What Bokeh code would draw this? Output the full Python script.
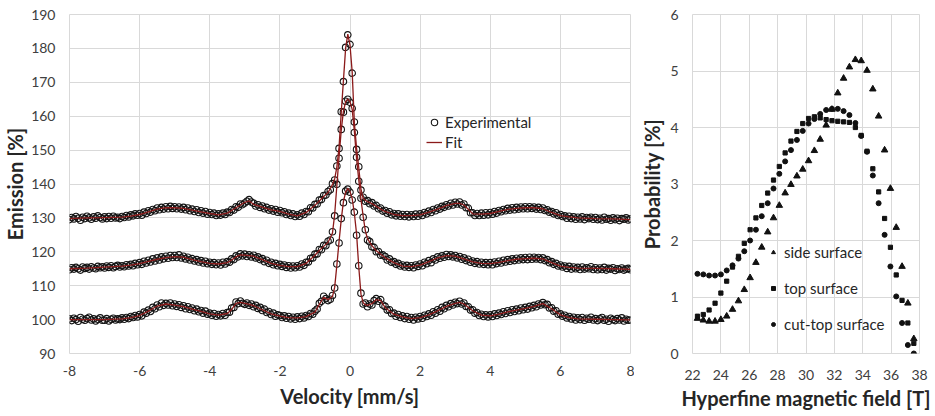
import numpy as np
from bokeh.plotting import figure
from bokeh.models import Range1d, FixedTicker, Legend, LegendItem
from bokeh.layouts import row
from bokeh.embed import file_html
from bokeh.resources import INLINE

# ---------------- left panel: emission spectra ----------------
VEL = np.arange(257) * 0.0625 - 8.0   # channel velocities [mm/s]

BOTTOM_EXP = [
    100.2, 99.7, 100.4, 100.0, 99.5, 100.6, 100.1, 99.8, 100.3, 100.7, 99.9, 100.2, 99.6, 100.1, 100.5, 99.8,
    99.8, 100.3, 99.6, 100.1, 100.4, 99.9, 100.2, 100.0, 100.5, 100.1, 100.6, 100.3, 100.9, 100.6, 101.2, 100.8,
    101.5, 101.1, 102.2, 101.9, 102.8, 102.4, 103.6, 103.2, 104.3, 103.8, 104.9, 104.2, 104.8, 104.3, 104.9, 104.1,
    104.6, 103.9, 104.4, 103.6, 104.1, 103.2, 103.8, 103.0, 103.4, 102.6, 103.1, 102.3, 102.7, 101.9, 102.5, 101.6,
    101.9, 101.3, 101.8, 101.0, 101.5, 101.1, 101.8, 101.3, 102.1, 102.2, 103.4, 103.6, 105.2, 104.7, 105.5, 104.8,
    104.5, 104.9, 104.2, 104.6, 103.8, 104.2, 103.3, 103.6, 102.7, 103.1, 102.1, 102.4, 101.5, 101.9, 101.0, 101.4,
    101.2, 100.6, 101.1, 100.4, 100.9, 100.2, 100.7, 100.1, 100.8, 100.3, 101.0, 100.5, 101.2, 100.9, 101.8, 101.6,
    102.5, 103.1, 104.8, 105.4, 106.9, 106.2, 105.6, 106.0, 107.1, 109.3, 116.4, 122.6, 129.8, 134.5, 137.9, 138.5,
    137.6, 135.3, 131.7, 124.9, 115.9, 107.8, 104.6, 104.9, 103.8, 104.6, 104.3, 105.6, 106.2, 105.4, 105.9, 104.3,
    103.9, 102.8, 102.9, 101.8, 101.9, 101.0, 101.5, 100.6, 101.1, 100.3, 100.9, 100.1, 100.6, 99.9, 100.7, 100.2,
    100.9, 100.4, 101.3, 100.9, 101.7, 101.3, 102.3, 101.9, 102.9, 102.5, 103.6, 103.2, 104.2, 103.8, 104.7, 104.3,
    105.1, 104.7, 105.4, 104.6, 104.9, 103.9, 103.8, 102.8, 102.9, 101.9, 102.1, 101.2, 101.6, 100.9, 101.4, 100.8,
    101.4, 100.9, 101.7, 101.2, 101.9, 101.5, 102.3, 101.8, 102.6, 102.1, 102.9, 102.4, 103.1, 102.6, 103.4, 102.9,
    103.6, 103.1, 103.9, 103.5, 104.2, 103.8, 104.6, 104.3, 105.0, 104.4, 104.5, 103.4, 103.5, 102.5, 102.6, 101.6,
    101.7, 101.0, 101.3, 100.5, 100.9, 100.2, 100.7, 99.9, 100.5, 100.0, 100.6, 99.8, 100.4, 100.1, 100.7, 99.9,
    100.3, 99.7, 100.2, 100.6, 99.8, 100.1, 99.5, 100.4, 100.0, 99.7, 100.3, 99.9, 100.5, 99.6, 100.1, 99.8,
    99.9,
]

MIDDLE_EXP = [
    114.7, 115.3, 114.9, 115.4, 115.0, 114.6, 115.5, 115.1, 115.4, 114.9, 115.6, 115.2, 115.0, 115.7, 115.3, 115.6,
    115.2, 115.8, 115.4, 115.9, 115.3, 115.7, 116.0, 115.5, 115.9, 115.6, 116.2, 115.8, 116.3, 115.9, 116.6, 116.2,
    116.8, 116.3, 117.2, 116.7, 117.5, 117.0, 117.9, 117.3, 118.2, 117.6, 118.5, 117.9, 118.7, 118.1, 118.9, 118.3,
    118.9, 118.3, 119.1, 118.2, 118.7, 117.9, 118.4, 117.6, 118.0, 117.3, 117.7, 117.0, 117.4, 116.7, 117.2, 116.5,
    116.9, 116.3, 116.8, 116.2, 116.7, 116.1, 116.9, 116.4, 117.1, 116.9, 117.9, 117.7, 118.8, 118.5, 119.4, 118.8,
    119.3, 118.6, 119.1, 118.5, 119.0, 118.2, 118.5, 117.7, 118.0, 117.1, 117.5, 116.6, 116.9, 116.2, 116.6, 115.9,
    116.3, 115.7, 116.1, 115.4, 115.9, 115.2, 115.8, 115.3, 115.9, 115.5, 116.4, 116.0, 116.9, 117.0, 118.1, 118.2,
    119.3, 119.4, 120.7, 120.6, 121.9, 121.8, 123.1, 123.5, 125.9, 130.6, 139.9, 147.6, 156.1, 161.2, 164.4, 165.0,
    164.1, 162.3, 155.2, 147.9, 140.8, 135.8, 130.2, 126.5, 123.5, 123.0, 121.5, 121.3, 120.0, 120.1, 119.0, 119.1,
    118.6, 117.6, 117.9, 116.9, 117.1, 116.3, 116.6, 115.8, 116.1, 115.5, 116.0, 115.4, 115.9, 115.3, 116.1, 115.7,
    116.4, 115.9, 116.9, 116.5, 117.4, 116.8, 117.9, 117.6, 118.5, 118.1, 118.8, 118.4, 119.2, 118.6, 119.1, 118.5,
    118.9, 118.2, 118.6, 117.8, 118.2, 117.4, 117.8, 116.9, 117.3, 116.6, 117.1, 116.4, 116.9, 116.3, 116.8, 116.2,
    116.8, 116.2, 117.0, 116.5, 117.2, 116.7, 117.5, 117.0, 117.7, 117.2, 117.9, 117.4, 118.1, 117.6, 118.2, 117.7,
    118.3, 117.7, 118.4, 117.8, 118.4, 117.9, 118.3, 117.7, 118.2, 117.4, 117.7, 116.8, 117.1, 116.3, 116.6, 115.8,
    116.1, 115.5, 115.8, 115.1, 115.7, 114.9, 115.5, 115.0, 115.4, 114.8, 115.5, 114.9, 115.3, 115.0, 115.6, 114.8,
    115.3, 114.7, 115.2, 114.8, 115.4, 114.6, 115.1, 114.9, 115.3, 114.5, 115.0, 114.8, 115.2, 114.6, 114.9, 115.1,
    114.7,
]

TOP_EXP = [
    129.5, 130.1, 129.7, 130.4, 129.9, 129.3, 130.2, 129.8, 130.5, 130.0, 129.6, 130.3, 129.9, 130.6, 130.1, 129.7,
    130.3, 129.8, 130.4, 129.9, 130.5, 130.0, 130.2, 129.8, 130.4, 130.1, 130.7, 130.3, 130.9, 130.6, 131.2, 130.8,
    131.3, 130.8, 131.7, 131.3, 132.1, 131.7, 132.5, 132.1, 132.9, 132.4, 133.1, 132.6, 133.3, 132.7, 133.4, 132.8,
    133.3, 132.7, 133.2, 132.6, 133.1, 132.4, 132.9, 132.1, 132.6, 131.9, 132.4, 131.6, 132.1, 131.4, 131.9, 131.1,
    131.6, 131.0, 131.4, 130.7, 131.2, 130.8, 131.4, 131.0, 131.7, 131.6, 132.5, 132.3, 133.3, 133.1, 134.1, 133.9,
    134.4, 134.9, 135.4, 134.7, 134.3, 133.5, 133.9, 133.1, 133.5, 132.7, 133.1, 132.3, 132.7, 132.0, 132.5, 131.7,
    132.2, 131.5, 131.8, 131.0, 131.4, 130.7, 131.2, 130.4, 130.9, 130.5, 131.4, 131.0, 131.9, 131.8, 133.0, 132.9,
    134.0, 134.1, 135.3, 135.4, 136.6, 136.7, 137.8, 138.3, 140.1, 141.2, 145.3, 150.5, 161.3, 170.2, 180.3, 184.0,
    181.2, 172.7, 158.3, 150.2, 145.1, 138.2, 136.1, 134.9, 135.1, 134.2, 134.5, 133.5, 133.7, 132.7, 132.9, 132.0,
    132.2, 131.4, 131.8, 130.9, 131.3, 130.6, 131.2, 130.5, 131.0, 130.4, 131.0, 130.3, 130.9, 130.4, 131.1, 130.5,
    131.2, 130.7, 131.6, 131.2, 132.0, 131.6, 132.5, 132.1, 132.9, 132.6, 133.4, 133.1, 133.9, 133.5, 134.3, 133.8,
    134.6, 134.1, 134.7, 133.8, 134.1, 133.0, 132.9, 131.5, 131.5, 130.7, 131.3, 130.7, 131.4, 130.8, 131.5, 130.9,
    131.6, 131.1, 131.9, 131.4, 132.2, 131.8, 132.5, 132.1, 132.8, 132.3, 133.0, 132.4, 133.1, 132.6, 133.2, 132.7,
    133.3, 132.7, 133.3, 132.8, 133.2, 132.6, 133.1, 132.5, 132.9, 132.2, 132.4, 131.7, 131.9, 131.2, 131.5, 130.7,
    131.0, 130.4, 130.6, 129.9, 130.5, 129.8, 130.3, 129.6, 130.2, 129.7, 130.3, 129.5, 130.1, 129.8, 130.2, 129.6,
    130.1, 129.5, 129.9, 129.4, 130.2, 129.6, 129.8, 129.3, 130.0, 129.5, 129.9, 129.2, 129.8, 129.6, 130.0, 129.4,
    129.7,
]

FIT_VEL = [
    -8.0, -7.5, -7.0, -6.5, -6.25, -6.0, -5.75, -5.5, -5.25, -5.0,
    -4.75, -4.5, -4.25, -4.0, -3.75, -3.5, -3.375, -3.25, -3.125, -3.0,
    -2.875, -2.75, -2.5, -2.25, -2.0, -1.75, -1.5, -1.25, -1.0, -0.875,
    -0.75, -0.625, -0.5, -0.4375, -0.375, -0.3125, -0.25, -0.1875, -0.125, -0.0625,
    0.0, 0.0625, 0.125, 0.1875, 0.25, 0.3125, 0.375, 0.4375, 0.5, 0.625,
    0.75, 0.875, 1.0, 1.25, 1.5, 1.75, 2.0, 2.25, 2.5, 2.75,
    3.0, 3.125, 3.25, 3.5, 3.75, 4.0, 4.25, 4.5, 4.75, 5.0,
    5.25, 5.5, 5.75, 6.0, 6.25, 6.5, 7.0, 7.5, 8.0,
]

BOTTOM_FIT = [
    100.0, 100.0, 100.0, 100.2, 100.6, 101.2, 102.5, 104.0, 104.6, 104.3,
    103.8, 103.1, 102.4, 101.7, 101.3, 101.8, 103.0, 104.8, 105.1, 104.8,
    104.5, 104.1, 102.9, 101.7, 101.0, 100.6, 100.5, 100.9, 102.2, 104.5,
    106.6, 105.9, 106.8, 109.5, 116.0, 123.0, 129.5, 134.8, 137.6, 138.7,
    137.8, 135.7, 131.3, 125.3, 115.5, 107.5, 105.0, 104.4, 104.2, 104.7,
    105.9, 105.6, 103.6, 101.6, 100.8, 100.3, 100.6, 101.4, 102.6, 103.9,
    104.8, 105.1, 104.6, 102.6, 101.3, 101.1, 101.6, 102.3, 102.8, 103.3,
    103.9, 104.7, 103.2, 101.4, 100.6, 100.2, 100.1, 100.0, 99.9,
]

MIDDLE_FIT = [
    115.0, 115.2, 115.5, 115.8, 116.1, 116.5, 117.2, 117.8, 118.3, 118.6,
    118.4, 117.7, 117.1, 116.6, 116.4, 116.8, 117.6, 118.5, 119.1, 119.0,
    118.9, 118.7, 117.7, 116.6, 116.0, 115.6, 115.6, 116.6, 119.0, 120.4,
    121.6, 122.8, 125.5, 131.0, 139.5, 148.0, 155.8, 161.5, 164.2, 165.1,
    164.3, 162.0, 155.5, 147.5, 141.2, 135.5, 130.5, 126.2, 123.8, 121.8,
    120.3, 119.3, 118.3, 116.8, 115.8, 115.6, 116.1, 117.1, 118.2, 118.9,
    118.7, 118.3, 117.9, 117.0, 116.6, 116.5, 116.9, 117.4, 117.8, 118.0,
    118.1, 117.9, 116.8, 115.8, 115.4, 115.2, 115.1, 115.0, 114.8,
]

TOP_FIT = [
    129.8, 130.0, 130.1, 130.2, 130.5, 131.0, 131.8, 132.6, 133.0, 133.0,
    132.8, 132.3, 131.8, 131.3, 130.9, 131.4, 132.2, 133.0, 133.8, 134.6,
    135.0, 134.0, 133.2, 132.4, 131.9, 131.1, 130.6, 131.6, 133.7, 135.0,
    136.3, 137.5, 139.8, 141.5, 145.0, 150.8, 161.0, 170.5, 180.0, 184.2,
    181.0, 173.0, 158.0, 150.5, 144.8, 138.5, 135.8, 135.2, 134.8, 134.2,
    133.4, 132.6, 131.9, 131.0, 130.7, 130.7, 130.9, 131.7, 132.6, 133.6,
    134.3, 134.3, 133.8, 131.2, 131.1, 131.3, 131.9, 132.5, 132.8, 133.0,
    133.0, 132.7, 131.6, 130.7, 130.3, 130.0, 129.8, 129.7, 129.5,
]

VEL_TICKS = [-8, -6, -4, -2, 0, 2, 4, 6, 8]
EMISSION_TICKS = [90, 100, 110, 120, 130, 140, 150, 160, 170, 180, 190]

# ---------------- right panel: hyperfine field distributions ----------------
HF_FIELD = [22.35, 22.76, 23.17, 23.59, 24.00, 24.41, 24.82, 25.24, 25.65, 26.06,
            26.47, 26.88, 27.30, 27.71, 28.12, 28.53, 28.94, 29.36, 29.77, 30.18,
            30.59, 31.00, 31.42, 31.83, 32.24, 32.65, 33.06, 33.48, 33.89, 34.30,
            34.71, 35.12, 35.54, 35.95, 36.36, 36.77, 37.18, 37.60]
SIDE_SURFACE = [0.62, 0.59, 0.57, 0.57, 0.60, 0.66, 0.78, 0.93, 1.13, 1.34,
                1.61, 1.88, 2.15, 2.40, 2.62, 2.84, 2.99, 3.14, 3.26, 3.41,
                3.59, 3.79, 4.04, 4.32, 4.61, 4.87, 5.07, 5.20, 5.18, 5.01,
                4.68, 4.20, 3.60, 2.92, 2.23, 1.54, 0.89, 0.26]
TOP_SURFACE = [0.66, 0.69, 0.77, 0.89, 1.07, 1.28, 1.53, 1.72, 1.95, 2.19,
               2.40, 2.62, 2.84, 3.07, 3.31, 3.55, 3.76, 3.93, 4.07, 4.16,
               4.19, 4.17, 4.14, 4.12, 4.11, 4.10, 4.09, 4.00, 3.86, 3.58,
               3.27, 2.86, 2.39, 1.88, 1.39, 0.94, 0.54, 0.18]
CUT_TOP_SURFACE = [1.41, 1.40, 1.38, 1.38, 1.40, 1.47, 1.56, 1.68, 1.81, 2.00,
                   2.19, 2.43, 2.66, 2.92, 3.18, 3.40, 3.60, 3.78, 3.94, 4.07,
                   4.15, 4.24, 4.31, 4.33, 4.33, 4.29, 4.22, 4.08, 3.85, 3.57,
                   3.15, 2.66, 2.10, 1.54, 1.01, 0.54, 0.15, 0.00]
FIELD_TICKS = [22, 24, 26, 28, 30, 32, 34, 36, 38]
PROB_TICKS = [0, 1, 2, 3, 4, 5, 6]

FONT = "Lato"
GRID = "#d9d9d9"
TICK_COLOR = "#404040"
TITLE_COLOR = "#262626"


def style(p, xticks, yticks, xlabel, ylabel, xstand, ystand, xlab_stand, ylab_stand):
    p.xaxis.ticker = FixedTicker(ticks=xticks)
    p.yaxis.ticker = FixedTicker(ticks=yticks)
    p.xaxis.major_label_overrides = {t: str(t) for t in xticks}
    p.yaxis.major_label_overrides = {t: str(t) for t in yticks}
    p.xaxis.axis_label = xlabel
    p.yaxis.axis_label = ylabel
    for ax in (p.xaxis, p.yaxis):
        ax.axis_line_color = None
        ax.major_tick_line_color = None
        ax.minor_tick_line_color = None
        ax.major_tick_out = 0
        ax.major_tick_in = 0
        ax.major_label_text_font = FONT
        ax.major_label_text_font_size = "14px"
        ax.major_label_text_color = TICK_COLOR
        ax.axis_label_text_font = FONT
        ax.axis_label_text_font_size = "20px"
        ax.axis_label_text_font_style = "bold"
        ax.axis_label_text_color = TITLE_COLOR
    p.xaxis.major_label_standoff = xstand
    p.yaxis.major_label_standoff = ystand
    p.xaxis.axis_label_standoff = xlab_stand
    p.yaxis.axis_label_standoff = ylab_stand
    p.grid.grid_line_color = GRID
    p.grid.grid_line_width = 1
    p.outline_line_color = GRID
    p.outline_line_width = 1
    p.background_fill_color = "white"
    p.border_fill_color = "white"


p1 = figure(width=634, height=415, x_range=Range1d(-8, 8), y_range=Range1d(90, 190),
            output_backend="svg", toolbar_location=None,
            min_border_left=68, min_border_right=4, min_border_top=14, min_border_bottom=62)
style(p1, VEL_TICKS, EMISSION_TICKS, "Velocity [mm/s]", "Emission [%]", 12, 14, 5, 1)

exp_renderers = []
fit_renderers = []
for yexp in (BOTTOM_EXP, MIDDLE_EXP, TOP_EXP):
    r = p1.scatter(VEL, yexp, marker="circle", size=6.5, fill_color=None,
                   line_color="#141414", line_width=1.1)
    exp_renderers.append(r)
for yfit in (BOTTOM_FIT, MIDDLE_FIT, TOP_FIT):
    r = p1.line(FIT_VEL, yfit, line_color="#8b1a1a", line_width=1.3)
    fit_renderers.append(r)

leg1 = Legend(items=[LegendItem(label="Experimental", renderers=[exp_renderers[0]]),
                     LegendItem(label="Fit", renderers=[fit_renderers[0]])],
              location=(357, 201))
leg1.border_line_color = None
leg1.background_fill_alpha = 0
leg1.padding = 0
leg1.margin = 0
leg1.spacing = 0
leg1.glyph_width = 16
leg1.glyph_height = 20
leg1.label_height = 20
leg1.label_standoff = 3
leg1.label_text_font = FONT
leg1.label_text_font_size = "15px"
leg1.label_text_color = TITLE_COLOR
p1.add_layout(leg1)

p2 = figure(width=297, height=415, x_range=Range1d(22, 38), y_range=Range1d(0, 6),
            output_backend="svg", toolbar_location=None,
            min_border_left=58, min_border_right=12, min_border_top=13, min_border_bottom=60)
style(p2, FIELD_TICKS, PROB_TICKS, "Hyperfine magnetic field [T]", "Probability [%]", 16, 14, 3, 3)

r_side = p2.scatter(HF_FIELD, SIDE_SURFACE, marker="triangle", size=6.5, color="#111111")
r_top = p2.scatter(HF_FIELD, TOP_SURFACE, marker="square", size=4.2, color="#111111")
r_cut = p2.scatter(HF_FIELD, CUT_TOP_SURFACE, marker="circle", size=5, color="#111111")

leg2 = Legend(items=[LegendItem(label="side surface", renderers=[r_side]),
                     LegendItem(label="top surface", renderers=[r_top]),
                     LegendItem(label="cut-top surface", renderers=[r_cut])],
              location=(76, 19))
leg2.border_line_color = None
leg2.background_fill_alpha = 0
leg2.padding = 0
leg2.margin = 0
leg2.spacing = 16
leg2.glyph_width = 10
leg2.glyph_height = 20
leg2.label_height = 20
leg2.label_standoff = 6
leg2.label_text_font = FONT
leg2.label_text_font_size = "15px"
leg2.label_text_color = TITLE_COLOR
p2.add_layout(leg2)

layout = row(p1, p2)
open("out.html", "w").write(file_html(layout, INLINE))
